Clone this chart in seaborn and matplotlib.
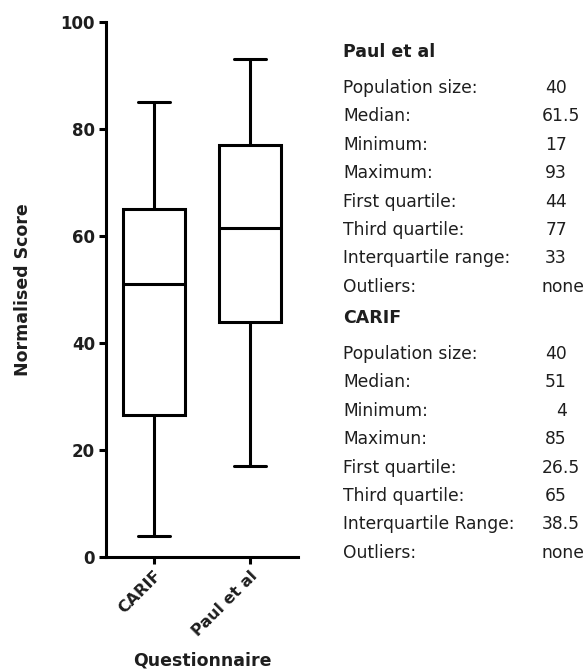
import matplotlib
matplotlib.use("Agg")
import matplotlib.pyplot as plt
import seaborn as sns
import pandas as pd

# ---- data ----
groups = ["CARIF", "Paul et al"]
minimum = [4, 17]
first_quartile = [26.5, 44]
median = [51, 61.5]
third_quartile = [65, 77]
maximum = [85, 93]
y_ticks = [0, 20, 40, 60, 80, 100]

paul_labels = ["Population size:", "Median:", "Minimum:", "Maximum:", "First quartile:",
               "Third quartile:", "Interquartile range:", "Outliers:"]
paul_values = ["40", "61.5", "17", "93", "44", "77", "33", "none"]
carif_labels = ["Population size:", "Median:", "Minimum:", "Maximun:", "First quartile:",
                "Third quartile:", "Interquartile Range:", "Outliers:"]
carif_values = ["40", "51", "4", "85", "26.5", "65", "38.5", "none"]

# five-number summaries as rows: quartiles computed by seaborn reproduce them exactly
rows = []
for g, mn, q1, md, q3, mx in zip(groups, minimum, first_quartile, median, third_quartile, maximum):
    for v in (mn, q1, md, q3, mx):
        rows.append({"Questionnaire": g, "Normalised Score": v})
df = pd.DataFrame(rows)

sns.set_theme(style="ticks")
plt.rcParams["font.family"] = ["DejaVu Sans"]

W, H = 586, 672
fig = plt.figure(figsize=(W / 100, H / 100), dpi=100)
fig.patch.set_facecolor("white")
ax = fig.add_axes([106 / W, 1 - 557 / H, (298 - 106) / W, (557 - 22) / H])

lw = 2.2
txt = "#1e1e1e"
sns.boxplot(data=df, x="Questionnaire", y="Normalised Score", order=groups,
            whis=(0, 100), width=0.65, color="white", linecolor="black",
            linewidth=lw, fliersize=0, ax=ax)

ax.set_xlim(-0.5, 1.5)
ax.set_ylim(0, 100)
ax.set_yticks(y_ticks)
ax.set_yticklabels([str(t) for t in y_ticks], fontsize=12, fontweight="bold", color=txt)
ax.set_xticks([0, 1])
ax.set_xticklabels(groups, rotation=45, ha="right", rotation_mode="anchor",
                   fontsize=11.5, fontweight="bold", color=txt)
ax.tick_params(axis="both", direction="out", length=5, width=lw, color="black", pad=3)
for s in ["top", "right"]:
    ax.spines[s].set_visible(False)
for s in ["left", "bottom"]:
    ax.spines[s].set_linewidth(lw)
    ax.spines[s].set_color("black")
ax.set_facecolor("white")

ax.set_ylabel("Normalised Score", fontsize=12.5, fontweight="bold", color=txt)
ax.yaxis.set_label_coords((32 - 106) / (298 - 106), 0.5)
ax.set_xlabel("Questionnaire", fontsize=12.5, fontweight="bold", color=txt)
ax.xaxis.set_label_coords(0.5, (557 - 651) / (557 - 22))

# ---- statistics table ----
def put(px, py, s, **kw):
    fig.text(px / W, 1 - py / H, s, va="center", color=txt, **kw)

def block(title, title_y, labels, values):
    put(343, title_y, title, fontsize=12.5, fontweight="bold")
    for i, (lab, val) in enumerate(zip(labels, values)):
        y = title_y + 36 + i * 28.4
        put(343, y, lab, fontsize=12.3)
        if val == "none":
            put(584, y, val, fontsize=12.3, ha="right")
        elif "." in val:
            put(542, y, val, fontsize=12.3, ha="left")
        else:
            put(567, y, val, fontsize=12.3, ha="right")

block("Paul et al", 52, paul_labels, paul_values)
block("CARIF", 318, carif_labels, carif_values)

fig.savefig("out.png", dpi=100, facecolor="white")
